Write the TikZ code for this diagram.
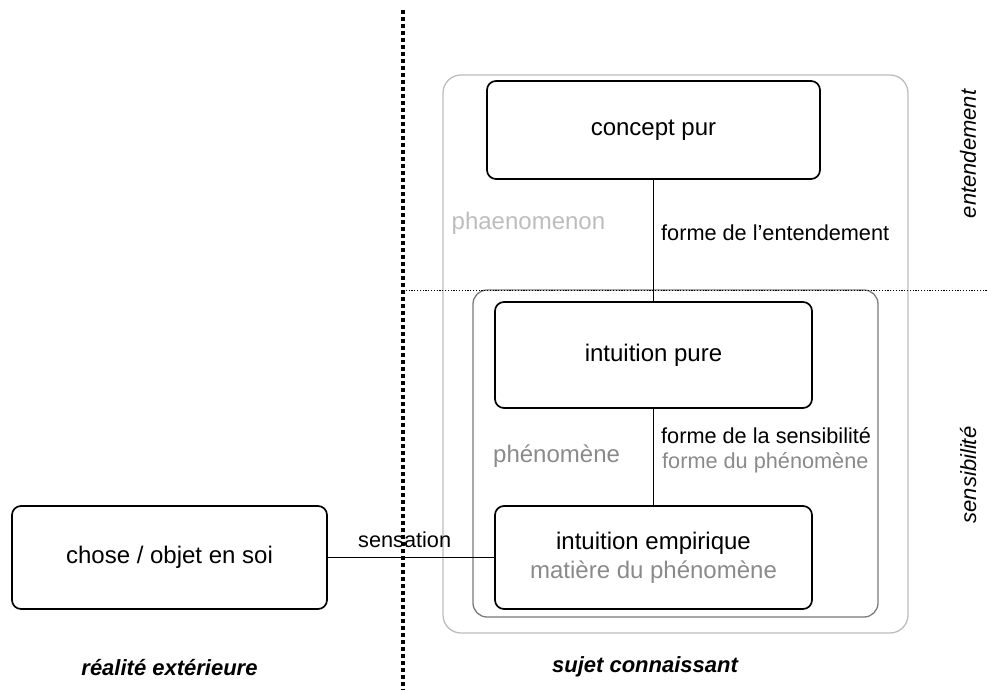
\documentclass[tikz,border=0pt]{standalone}
\usepackage{fontspec}
\setmainfont{Liberation Sans}
\definecolor{lightgr}{HTML}{BDBDBD}
\definecolor{midgr}{HTML}{7A7A7A}
\definecolor{txtgr}{HTML}{8A8A8A}
\begin{document}
\begin{tikzpicture}[x=1pt,y=-1pt,
  box/.style={draw=black, line width=1.7pt, rounded corners=9pt, inner sep=0pt,
    font=\fontsize{24}{28}\selectfont, align=center},
  conn/.style={draw=black, line width=1.4pt},
  lbl/.style={inner sep=0pt, font=\fontsize{21.7}{26}\selectfont},
  biglbl/.style={inner sep=0pt, font=\fontsize{24}{28}\selectfont},
  side/.style={inner sep=0pt, font=\fontsize{22}{26}\selectfont\itshape},
  foot/.style={inner sep=0pt, font=\fontsize{22}{26}\selectfont\bfseries\itshape}]
\useasboundingbox (0,0) rectangle (988,690);
% grouping boxes
\draw[lightgr, line width=1.3pt, rounded corners=18pt] (443,75) rectangle (908,633);
\draw[midgr, line width=1.3pt, rounded corners=14pt] (473,290) rectangle (878,617);
% separators
\coordinate (vtop) at (403,10);
\coordinate (vbot) at (403,690);
\coordinate (hleft) at (403,290);
\coordinate (hright) at (988,290);
\draw[line width=3.6pt, dash pattern=on 4pt off 3pt] (vtop) -- (vbot);
\draw[line width=0.9pt, dash pattern=on 1.2pt off 1.6pt] (hleft) -- (hright);
% main nodes
\node[box, minimum width=333pt, minimum height=98pt] (concept) at (653.5,130) {concept pur};
\node[box, minimum width=317pt, minimum height=106pt] (ipure) at (653.5,355) {intuition pure};
\node[box, minimum width=317pt, minimum height=103pt] (iemp) at (653.5,557.5) {intuition empirique\\[1pt]{\color{txtgr}matière du phénomène}};
\node[box, minimum width=315pt, minimum height=103pt] (chose) at (169.5,557.5) {chose / objet en soi};
% connectors
\draw[conn] (concept.south) -- (ipure.north);
\draw[conn] (ipure.south) -- (iemp.north);
\draw[conn] (chose.east) -- (iemp.west);
% labels
\node[biglbl, anchor=base west, text=lightgr] (phaen) at (451.5,229) {phaenomenon};
\node[lbl, anchor=base west] (fent) at (661,240) {forme de l’entendement};
\node[biglbl, anchor=base west, text=txtgr] (phen) at (493,462) {phénomène};
\node[lbl, anchor=base west] (fsens) at (661,443) {forme de la sensibilité};
\node[lbl, anchor=base west, text=txtgr] (fphen) at (662,468) {forme du phénomène};
\node[lbl, anchor=base west] (sens) at (358,547) {sensation};
\node[side, rotate=90] (entend) at (968,154) {entendement};
\node[side, rotate=90] (sensib) at (968,475) {sensibilité};
\node[foot, anchor=base] (real) at (169.5,675) {réalité extérieure};
\node[foot, anchor=base] (sujet) at (645,672) {sujet connaissant};
\end{tikzpicture}
\end{document}
